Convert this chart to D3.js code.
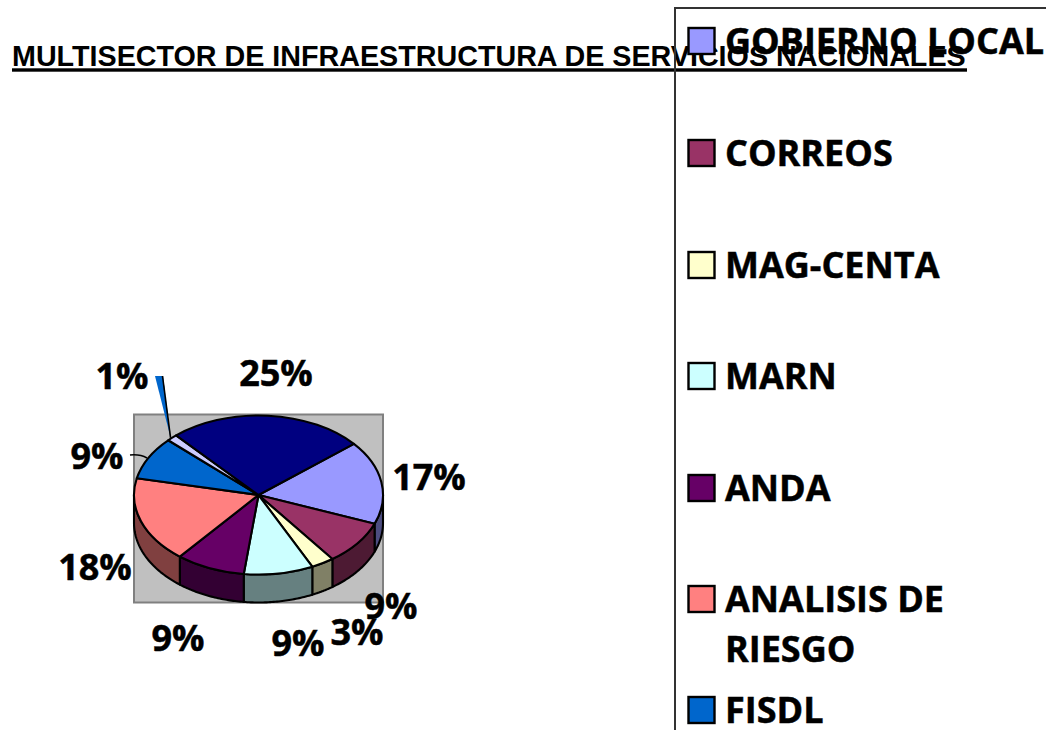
<!DOCTYPE html>
<html><head><meta charset="utf-8">
<script src="https://cdn.jsdelivr.net/npm/d3@7/dist/d3.min.js"></script>
<style>html,body{margin:0;padding:0;background:#fff;overflow:hidden}svg{display:block}</style>
</head><body>
<svg id="c" width="1046" height="730"></svg>
<script>
const titleText = "MULTISECTOR DE INFRAESTRUCTURA DE SERVICIOS NACIONALES";
const sliceValues = [17, 9, 3, 9, 9, 17.5, 8.7, 1.4, 25.4];
const sliceColors = ["#9999ff","#993366","#ffffcc","#ccffff","#660066","#ff8080","#0066cc","#ccccff","#000080"];
const wallColors  = ["#4d4d80","#4d1a33","#808066","#668080","#330033","#804040","#003366","#666680","#000040"];
const pctLabels = ["17%","9%","3%","9%","9%","18%","9%","1%","25%"];
const labelAnchors = [[429,477],[391,606],[357,632],[298,643],[178,638],[95,567],[97,456],[122,376],[276,373]];
const legendLabels = [["GOBIERNO LOCAL"],["CORREOS"],["MAG-CENTA"],["MARN"],["ANDA"],["ANALISIS DE","RIESGO"],["FISDL"]];
const legendRows = [41,153,265,376,488,599,710];

const svg = d3.select("#c");
const LABEL_FONT = "'Open Sans'";
const cx=258.5, cy=495, rx=124.5, ry=79.5, depth=28;

svg.append("rect").attr("x",134).attr("y",414.5).attr("width",249).attr("height",188)
  .attr("fill","#c0c0c0").attr("stroke","#808080").attr("stroke-width",2);

const start = 50*Math.PI/180;
const pie = d3.pie().sort(null).startAngle(start).endAngle(start+2*Math.PI);
const arcs = pie(sliceValues);
const pt = (a,dy=0)=>[cx+rx*Math.sin(a), cy-ry*Math.cos(a)+dy];

// side walls, front half only
const wall = svg.append("g");
arcs.forEach((d,i)=>{
  const intervals=[[Math.PI/2,3*Math.PI/2],[Math.PI/2+2*Math.PI,3*Math.PI/2+2*Math.PI]];
  intervals.forEach(([lo,hi])=>{
    const a0=Math.max(d.startAngle,lo), a1=Math.min(d.endAngle,hi);
    if(a1<=a0) return;
    const p=d3.path();
    p.moveTo(...pt(a0));
    const n=40;
    for(let k=1;k<=n;k++) p.lineTo(...pt(a0+(a1-a0)*k/n));
    for(let k=n;k>=0;k--) p.lineTo(...pt(a0+(a1-a0)*k/n,depth));
    p.closePath();
    wall.append("path").attr("d",p.toString()).attr("fill",wallColors[i])
      .attr("stroke","#000").attr("stroke-width",2.1).attr("stroke-linejoin","round");
  });
});

// top face
const arc = d3.arc().innerRadius(0).outerRadius(rx);
svg.append("g").attr("transform",`translate(${cx},${cy}) scale(1,${ry/rx})`)
  .selectAll("path").data(arcs).join("path")
  .attr("d",arc).attr("fill",(d,i)=>sliceColors[i])
  .attr("stroke","#000").attr("stroke-width",2.1).attr("stroke-linejoin","round")
  .attr("vector-effect","non-scaling-stroke");

// leaders
const smallMid=(arcs[7].startAngle+arcs[7].endAngle)/2;
const tip=pt(smallMid);
svg.append("path").attr("d",`M155,376L163,376L${tip[0]-1.5},${tip[1]}Z`).attr("fill","#0066cc");
svg.append("line").attr("x1",162.5).attr("y1",376).attr("x2",tip[0]-1.5).attr("y2",tip[1])
  .attr("stroke","#000").attr("stroke-width",1.6);
svg.append("path").attr("d","M130,455Q140,454 147,458").attr("fill","none").attr("stroke","#000").attr("stroke-width",1.5);

// title
svg.append("text").attr("x",12).attr("y",66).text(titleText)
  .attr("font-family","'Liberation Sans'").attr("font-weight",700).attr("font-size",28.7).attr("fill","#000");
svg.append("rect").attr("x",12).attr("y",68.3).attr("width",955).attr("height",3.4).attr("fill","#000");

// legend frame
svg.append("path").attr("d","M1046,8H675V730").attr("fill","none").attr("stroke","#333").attr("stroke-width",2);

// pct labels
svg.append("g").selectAll("text").data(pctLabels).join("text")
  .attr("x",(d,i)=>labelAnchors[i][0]).attr("y",(d,i)=>labelAnchors[i][1]+13)
  .attr("text-anchor","middle").text(d=>d)
  .attr("font-family",LABEL_FONT).attr("font-weight",700).attr("font-size",36).attr("fill","#000")
  .attr("stroke","#000").attr("stroke-width",0.5);

// legend
const lg=svg.append("g");
legendLabels.forEach((lines,i)=>{
  const y=legendRows[i];
  lg.append("rect").attr("x",688.5).attr("y",y-13).attr("width",26).attr("height",26)
    .attr("fill",sliceColors[i]).attr("stroke","#000").attr("stroke-width",2.4);
  lines.forEach((t,j)=>{
    lg.append("text").attr("x",725).attr("y",y+13+j*50).text(t)
      .attr("font-family",LABEL_FONT).attr("font-weight",700).attr("font-size",36).attr("fill","#000")
      .attr("stroke","#000").attr("stroke-width",0.5);
  });
});
</script>
</body></html>
